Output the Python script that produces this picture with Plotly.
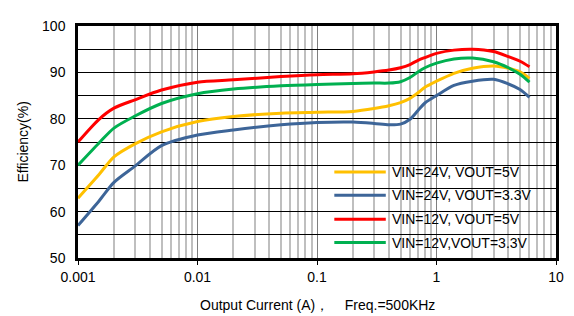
import plotly.graph_objects as go

# ---- data ----
current = [0.001, 0.0015, 0.002, 0.003, 0.005, 0.01, 0.02, 0.05, 0.1, 0.2, 0.3, 0.4,
           0.5, 0.6, 0.7, 0.8, 1, 1.4, 2, 3, 4, 5, 6]

eff_24v_5v = [62.9, 68.0, 71.8, 74.6, 77.2, 79.4, 80.5, 81.2, 81.4, 81.6, 82.2, 82.8,
              83.5, 84.4, 85.6, 86.8, 88.1, 89.8, 90.9, 91.4, 90.9, 90.1, 88.7]
eff_24v_33v = [57.0, 62.3, 66.3, 69.8, 74.2, 76.5, 77.6, 78.7, 79.2, 79.3, 79.0, 78.7,
               78.85, 79.9, 81.8, 83.4, 85.0, 87.2, 88.1, 88.5, 87.5, 86.3, 84.6]
eff_12v_5v = [75.0, 79.9, 82.3, 84.1, 86.2, 87.9, 88.4, 89.1, 89.5, 89.7, 90.1, 90.5,
              91.0, 91.7, 92.6, 93.2, 94.1, 94.8, 95.0, 94.5, 93.4, 92.4, 91.2]
eff_12v_33v = [70.0, 74.8, 78.0, 80.6, 83.3, 85.4, 86.4, 87.1, 87.4, 87.6, 87.7, 87.7,
               88.0, 88.9, 90.1, 91.0, 92.0, 92.9, 93.1, 92.3, 91.0, 89.6, 87.9]

series_names = ["VIN=24V, VOUT=5V", "VIN=24V, VOUT=3.3V", "VIN=12V, VOUT=5V", "VIN=12V,VOUT=3.3V"]
series_values = [eff_24v_5v, eff_24v_33v, eff_12v_5v, eff_12v_33v]
series_colors = ["#FFC000", "#3D6598", "#FF0000", "#00B050"]

x_tick_vals = [0.001, 0.01, 0.1, 1, 10]
x_tick_text = ["0.001", "0.01", "0.1", "1", "10"]
y_tick_vals = [50, 55, 60, 65, 70, 75, 80, 85, 90, 95, 100]
y_tick_text = ["50", "", "60", "", "70", "", "80", "", "90", "", "100"]

x_title = "Output Current (A)\uff0c    Freq.=500KHz"
y_title = "Efficiency(%)"

FONT = "Liberation Sans, Arial, sans-serif"

# ---- figure ----
# The page body has an 8px default margin, so the figure is 8px smaller and
# every screen position below is given in window pixels, shifted by OFF.
OFF = 8
W, H = 574 - OFF, 316 - OFF
ml, mr, mt, mb = 78 - OFF, 13, 18 - OFF, 58
pw, ph = W - ml - mr, H - mt - mb
plot_left = OFF + ml
plot_bottom = OFF + H - mb


def px_x(p):
    return (p - plot_left) / pw


def px_y(p):
    return (plot_bottom - p) / ph


fig = go.Figure()
for name, vals, col in zip(series_names, series_values, series_colors):
    fig.add_trace(go.Scatter(
        x=current, y=vals, name=name, mode="lines",
        line=dict(color=col, width=3, shape="spline", smoothing=0.8),
        showlegend=False,
    ))

minor_vals = [m * 10 ** e for e in range(-3, 1) for m in range(2, 10)]

fig.update_xaxes(
    type="log", range=[-3, 1],
    tickmode="array", tickvals=x_tick_vals, ticktext=x_tick_text,
    showgrid=True, gridcolor="#7F7F7F", gridwidth=1.2,
    minor=dict(tickmode="array", tickvals=minor_vals, showgrid=True,
               gridcolor="#BFBFBF", gridwidth=2, ticks=""),
    showline=True, linecolor="black", linewidth=2.5, mirror=True,
    ticks="outside", ticklen=4, tickcolor="black", tickwidth=1,
    tickfont=dict(family=FONT, size=14, color="black"),
    zeroline=False,
)
fig.update_yaxes(
    range=[50, 100],
    tickmode="array", tickvals=y_tick_vals, ticktext=y_tick_text,
    showgrid=True, gridcolor="black", gridwidth=1,
    showline=True, linecolor="black", linewidth=2.5, mirror=True,
    ticks="", ticklabelstandoff=7,
    tickfont=dict(family=FONT, size=14, color="black"),
    zeroline=False,
)

# legend box (covers grid, below traces)
shapes = [dict(type="rect", xref="paper", yref="paper",
               x0=px_x(313), x1=px_x(557), y0=px_y(255), y1=px_y(156),
               fillcolor="white", line=dict(width=0), layer="between")]
annotations = []
row_y = [169, 193, 218, 242]
for name, col, ry in zip(series_names, series_colors, row_y):
    shapes.append(dict(type="line", xref="paper", yref="paper",
                       x0=px_x(337), x1=px_x(389), y0=px_y(ry), y1=px_y(ry),
                       line=dict(color=col, width=3)))
    annotations.append(dict(xref="paper", yref="paper", x=px_x(393), y=px_y(ry),
                            xanchor="left", yanchor="middle", showarrow=False,
                            text=name, font=dict(family=FONT, size=14, color="black")))

annotations.append(dict(xref="paper", yref="paper", x=px_x(319.5), y=px_y(307),
                        xanchor="center", yanchor="middle", showarrow=False,
                        text=x_title, font=dict(family=FONT, size=14, color="black")))
annotations.append(dict(xref="paper", yref="paper", x=px_x(22), y=0.5,
                        xanchor="center", yanchor="middle", showarrow=False, textangle=-90,
                        text=y_title, font=dict(family=FONT, size=14, color="black")))

fig.update_layout(
    width=W, height=H,
    margin=dict(l=ml, r=mr, t=mt, b=mb),
    paper_bgcolor="white", plot_bgcolor="white",
    showlegend=False,
    shapes=shapes, annotations=annotations,
)

fig.write_html("out.html")
